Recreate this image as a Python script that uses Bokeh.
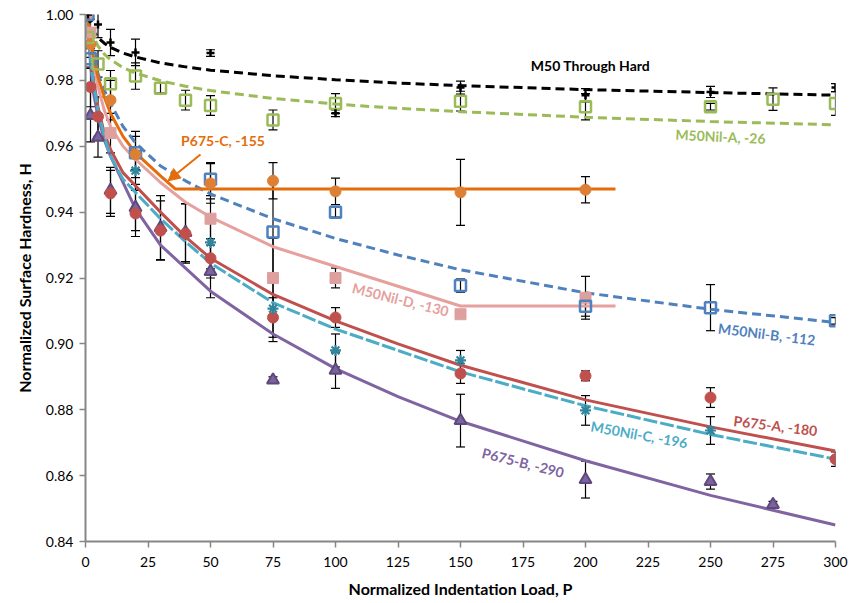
from bokeh.plotting import figure
from bokeh.models import ColumnDataSource, Whisker, TeeHead, Arrow, NormalHead, FixedTicker, NumeralTickFormatter, Range1d
from bokeh.core.properties import value
from bokeh.embed import file_html
from bokeh.resources import INLINE

# ---------------- data ----------------
# fitted curves
fit_P = [1, 2, 3, 5, 7.5, 10, 15, 20, 30, 40, 50, 75, 100, 125, 150, 200, 250, 300]
fit_black = [1.0, 0.9970, 0.9952, 0.9930, 0.9913, 0.9900, 0.9883, 0.9871, 0.9853, 0.9841, 0.9831,
             0.9814, 0.9802, 0.9792, 0.9784, 0.9772, 0.9763, 0.9755]
fit_green = [1.0, 0.9959, 0.9935, 0.9904, 0.9880, 0.9863, 0.9839, 0.9822, 0.9799, 0.9782, 0.9769,
             0.9745, 0.9728, 0.9715, 0.9705, 0.9688, 0.9675, 0.9665]
fit_blue = [0.999, 0.993, 0.988, 0.982, 0.977, 0.973, 0.966, 0.961, 0.954, 0.9495, 0.9455,
            0.938, 0.932, 0.927, 0.9225, 0.9155, 0.9105, 0.9065]
fit_red = [0.998, 0.988, 0.981, 0.972, 0.964, 0.959, 0.952, 0.948, 0.940, 0.9325, 0.926,
           0.915, 0.907, 0.900, 0.8935, 0.883, 0.8748, 0.8675]
fit_teal = [0.998, 0.987, 0.980, 0.971, 0.963, 0.957, 0.950, 0.946, 0.938, 0.931, 0.9245,
            0.9125, 0.9045, 0.898, 0.8915, 0.8812, 0.8725, 0.8650]
fit_purple = [0.997, 0.985, 0.977, 0.969, 0.962, 0.957, 0.949, 0.941, 0.930, 0.923, 0.916,
              0.903, 0.8925, 0.884, 0.8765, 0.8645, 0.854, 0.845]
fit_pink_P = [1, 2, 3, 5, 7.5, 10, 15, 20, 30, 40, 50, 75, 100, 125, 150, 212]
fit_pink = [0.999, 0.992, 0.986, 0.978, 0.971, 0.966, 0.960, 0.956, 0.949, 0.943, 0.9385,
            0.9295, 0.9235, 0.9175, 0.9115, 0.9115]
fit_orange_P = [1, 2, 3, 5, 7.5, 10, 15, 20, 30, 36, 212]
fit_orange = [0.999, 0.993, 0.988, 0.981, 0.975, 0.970, 0.963, 0.958, 0.951, 0.947, 0.947]

# measured points
black_P = [1, 5, 10, 20, 50, 100, 150, 200, 250, 300]
black_H = [1.0, 0.997, 0.9915, 0.9885, 0.9883, 0.970, 0.9778, 0.9755, 0.9765, 0.9778]
black_E = [0.002, 0.004, 0.004, 0.004, 0.001, 0.001, 0.002, 0.002, 0.0017, 0.0012]

green_P = [1, 5, 10, 20, 30, 40, 50, 75, 100, 150, 200, 250, 275, 300]
green_H = [0.993, 0.985, 0.979, 0.9813, 0.9776, 0.974, 0.9724, 0.968, 0.973, 0.9737, 0.972, 0.972, 0.9743, 0.973]
green_E = [0.003, 0.004, 0.004, 0.004, 0.0015, 0.003, 0.003, 0.003, 0.003, 0.003, 0.004, 0.001, 0.0034, 0.0036]

blue_P = [1, 2, 20, 50, 75, 100, 150, 200, 250, 300]
blue_H = [1.0, 0.9866, 0.958, 0.950, 0.934, 0.940, 0.9177, 0.9114, 0.911, 0.907]
blue_E = [0.002, 0.003, 0.005, 0.005, 0.015, 0.0015, 0.002, 0.003, 0.007, 0.001]

pink_P = [1, 2, 10, 50, 75, 100, 150, 200]
pink_H = [1.0, 0.9945, 0.964, 0.938, 0.920, 0.920, 0.909, 0.914]
pink_E = [0.002, 0.004, 0.006, 0.006, 0.012, 0.003, 0.001, 0.0065]

orange_P = [2, 10, 20, 50, 75, 100, 150, 200]
orange_H = [0.991, 0.974, 0.9575, 0.9487, 0.9495, 0.9463, 0.946, 0.9468]
orange_E = [0.004, 0.006, 0.007, 0.006, 0.0055, 0.004, 0.010, 0.004]

red_P = [2, 5, 10, 20, 30, 40, 50, 75, 100, 150, 200, 250, 300]
red_H = [0.978, 0.969, 0.9457, 0.9396, 0.9344, 0.9335, 0.926, 0.908, 0.908, 0.891, 0.8903, 0.8837, 0.865]
red_E = [0.006, 0.006, 0.007, 0.007, 0.009, 0.009, 0.006, 0.006, 0.003, 0.003, 0.0015, 0.003, 0.0022]

teal_P = [20, 50, 75, 100, 150, 200, 250]
teal_H = [0.9526, 0.9308, 0.9107, 0.898, 0.895, 0.8798, 0.8737]
teal_E = [0.006, 0.008, 0.010, 0.005, 0.003, 0.0045, 0.0042]

purple_P = [2, 5, 10, 20, 30, 40, 50, 75, 100, 150, 200, 250, 275]
purple_H = [0.9693, 0.9627, 0.9466, 0.9414, 0.9353, 0.9338, 0.922, 0.889, 0.892, 0.8767, 0.8588, 0.8582, 0.8512]
purple_E = [0.008, 0.006, 0.007, 0.007, 0.0097, 0.0088, 0.008, 0.001, 0.0055, 0.008, 0.0056, 0.0023, 0.001]

# annotations
label_texts = ["M50 Through Hard", "M50Nil-A, -26", "P675-C, -155", "M50Nil-D, -130",
               "M50Nil-B, -112", "P675-A, -180", "M50Nil-C, -196", "P675-B, -290"]
label_x = [202, 254, 55, 126, 272.5, 276, 221.5, 175]
label_y = [0.9845, 0.963, 0.9617, 0.9135, 0.903, 0.8752, 0.8725, 0.864]
label_angle = [0, -2.6, 0, -14, -7, -7, -10, -14]
label_color = ["#000000", "#9BBB59", "#E46C0A", "#E6A09E", "#4F81BD", "#C0504D", "#4BACC6", "#8064A2"]

arrow_start = (46, 0.9575)
arrow_end = (33, 0.9495)

x_ticks = [0, 25, 50, 75, 100, 125, 150, 175, 200, 225, 250, 275, 300]
y_ticks = [0.84, 0.86, 0.88, 0.90, 0.92, 0.94, 0.96, 0.98, 1.00]

# ---------------- figure ----------------
FONT = "Lato"
p = figure(width=849, height=600, output_backend="svg", toolbar_location=None,
           x_range=Range1d(0, 300), y_range=Range1d(0.84, 1.0),
           min_border_left=85, min_border_right=14, min_border_top=14, min_border_bottom=59)
p.outline_line_color = None
p.grid.visible = False
p.background_fill_color = "white"

for ax in (p.xaxis, p.yaxis):
    ax.axis_line_color = "#868686"
    ax.axis_line_width = 2
    ax.major_tick_line_color = "#868686"
    ax.major_tick_line_width = 1.5
    ax.major_tick_out = 6
    ax.major_tick_in = 0
    ax.minor_tick_line_color = None
    ax.major_label_text_font = FONT
    ax.major_label_text_font_size = "14px"
    ax.major_label_text_color = "#000000"
    ax.axis_label_text_font = FONT
    ax.axis_label_text_font_size = "16px"
    ax.axis_label_text_font_style = "bold"
    ax.axis_label_text_color = "#000000"

p.xaxis.ticker = FixedTicker(ticks=x_ticks)
p.yaxis.ticker = FixedTicker(ticks=y_ticks)
p.yaxis.formatter = NumeralTickFormatter(format="0.00")
p.xaxis.axis_label = "Normalized Indentation Load, P"
p.yaxis.axis_label = "Normalized Surface Hardness, H"
p.xaxis.major_label_standoff = 9
p.xaxis.axis_label_standoff = 9
p.yaxis.major_label_standoff = 6
p.yaxis.axis_label_standoff = 9


def bars(P, H, E):
    src = ColumnDataSource(dict(x=P, lo=[h - e for h, e in zip(H, E)], hi=[h + e for h, e in zip(H, E)]))
    w = Whisker(base="x", lower="lo", upper="hi", source=src, line_color="#000000", line_width=1.2,
                upper_head=TeeHead(size=9, line_color="#000000", line_width=1.2),
                lower_head=TeeHead(size=9, line_color="#000000", line_width=1.2))
    w.level = "underlay"
    p.add_layout(w)


for P, H, E in [(black_P, black_H, black_E), (green_P, green_H, green_E), (blue_P, blue_H, blue_E),
                (pink_P, pink_H, pink_E), (orange_P, orange_H, orange_E), (red_P, red_H, red_E),
                (teal_P, teal_H, teal_E), (purple_P, purple_H, purple_E)]:
    bars(P, H, E)

# fit lines
p.line(fit_P, fit_purple, line_color="#8064A2", line_width=3)
p.line(fit_P, fit_red, line_color="#C0504D", line_width=3)
p.line(fit_P, fit_teal, line_color="#4BACC6", line_width=3, line_dash="14 3")
p.line(fit_pink_P, fit_pink, line_color="#E6A09E", line_width=3)
p.line(fit_P, fit_blue, line_color="#4F81BD", line_width=3, line_dash="9 5")
p.line(fit_orange_P, fit_orange, line_color="#E46C0A", line_width=3)
p.line(fit_P, fit_green, line_color="#9BBB59", line_width=3, line_dash="9 5")
p.line(fit_P, fit_black, line_color="#000000", line_width=3, line_dash="9 5")

# markers
p.scatter(purple_P, purple_H, marker="triangle", size=12, fill_color="#7A64A0",
          line_color="#5F497A", line_width=2)
p.scatter(red_P, red_H, marker="circle", size=11, fill_color="#C0504D", line_color="#C0504D")
p.scatter(teal_P, teal_H, marker="asterisk", size=11, line_color="#31859C", line_width=2.2)
p.scatter(pink_P, pink_H, marker="square", size=11, fill_color="#DDA09E", line_color="#DDA09E")
p.scatter(blue_P, blue_H, marker="square", size=11, fill_alpha=0, line_color="#4F81BD", line_width=2.5)
p.scatter(orange_P, orange_H, marker="circle", size=11, fill_color="#DD8035", line_color="#DD8035")
p.scatter(green_P, green_H, marker="square", size=11, fill_alpha=0, line_color="#9BBB59", line_width=2.5)
p.scatter(black_P, black_H, marker="cross", size=8, line_color="#000000", line_width=2.5)

# arrow
p.add_layout(Arrow(end=NormalHead(size=12, fill_color="#E46C0A", line_color="#E46C0A"),
                   x_start=arrow_start[0], y_start=arrow_start[1], x_end=arrow_end[0], y_end=arrow_end[1],
                   line_color="#E46C0A", line_width=2))

# labels
lsrc = ColumnDataSource(dict(x=label_x, y=label_y, t=label_texts, a=label_angle, c=label_color))
p.text(x="x", y="y", text="t", angle="a", angle_units="deg", text_color="c", source=lsrc,
       text_font=value(FONT), text_font_size="14px", text_font_style="bold",
       text_align="center", text_baseline="middle")

open("out.html", "w").write(file_html(p, INLINE))
